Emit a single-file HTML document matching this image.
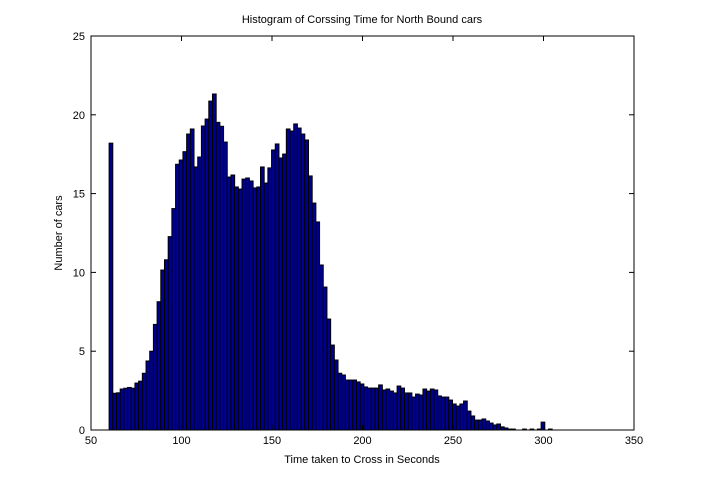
<!DOCTYPE html>
<html><head><meta charset="utf-8"><style>
body{margin:0;background:#fff;}
svg{display:block;font-family:"Liberation Sans",sans-serif;}
</style></head><body>
<svg id="chart" width="701" height="483" xmlns="http://www.w3.org/2000/svg">
<rect width="701" height="483" fill="#fff"/>
<g id="bars"></g>
<g id="axes"></g>
<text x="362" y="23" font-size="11" text-anchor="middle">Histogram of Corssing Time for North Bound cars</text>
<text x="362" y="463" font-size="11" text-anchor="middle">Time taken to Cross in Seconds</text>
<text transform="translate(62,233) rotate(-90)" font-size="11" text-anchor="middle">Number of cars</text>
</svg>
<script>
const binStart = 60;
const binWidth = 2.04;
const counts = [18.2,2.33,2.36,2.6,2.65,2.7,2.65,2.98,3.1,3.6,4.38,5.0,6.7,8.14,10.15,10.8,12.27,14.05,16.86,17.13,17.66,18.78,19.1,16.69,17.32,19.29,19.73,20.87,21.32,19.52,
19.27,18.27,16.05,16.18,15.42,15.29,15.92,15.99,15.8,15.36,15.42,16.69,15.67,16.63,17.77,18.15,17.26,17.51,19.1,18.97,19.42,19.16,18.78,18.4,16.12,14.4,13.2,10.47,9.07,7.04,5.39,4.44,3.6,
3.49,3.17,3.17,3.17,3.05,2.92,2.73,2.66,2.66,2.66,2.86,2.54,2.6,2.47,2.35,2.79,2.66,2.35,2.35,2.09,2.28,2.22,2.6,2.47,2.6,2.54,2.16,2.09,2.09,1.9,1.65,1.52,1.65,1.84,1.2,0.89,0.63,0.63,0.7,0.57,0.44,0.32,0.38,0.2,0.13,0.06,0.06,
0,0,0.06,0,0.06,0,0.06,0.5,0,0.06];
const xTicks = [50,100,150,200,250,300,350];
const yTicks = [0,5,10,15,20,25];
const L=91,R=634,T=36,B=430;
const xs = v => L + (v-50)/300*(R-L);
const ys = v => B - v/25*(B-T);
const NS="http://www.w3.org/2000/svg";
const bars=document.getElementById('bars');
counts.forEach((c,i)=>{
  if(c<=0) return;
  const r=document.createElementNS(NS,'rect');
  const x0=xs(binStart+i*binWidth), x1=xs(binStart+(i+1)*binWidth);
  r.setAttribute('x',x0);r.setAttribute('width',x1-x0);
  r.setAttribute('y',ys(c));r.setAttribute('height',B-ys(c));
  r.setAttribute('fill','#00008f');r.setAttribute('stroke','#000');r.setAttribute('stroke-width','1');
  
  
  bars.appendChild(r);
});
const ax=document.getElementById('axes');
let h='<rect x="'+L+'" y="'+T+'" width="'+(R-L)+'" height="'+(B-T)+'" fill="none" stroke="#000" stroke-width="1"/>';
xTicks.forEach(t=>{const x=xs(t);
  h+='<line x1="'+x+'" y1="'+B+'" x2="'+x+'" y2="'+(B-5)+'" stroke="#000"/><line x1="'+x+'" y1="'+T+'" x2="'+x+'" y2="'+(T+5)+'" stroke="#000"/>';
  h+='<text x="'+x+'" y="'+(B+14)+'" font-size="11" text-anchor="middle">'+t+'</text>';});
yTicks.forEach(t=>{const y=ys(t);
  h+='<line x1="'+L+'" y1="'+y+'" x2="'+(L+5)+'" y2="'+y+'" stroke="#000"/><line x1="'+R+'" y1="'+y+'" x2="'+(R-5)+'" y2="'+y+'" stroke="#000"/>';
  h+='<text x="'+(L-6)+'" y="'+(y+4)+'" font-size="11" text-anchor="end">'+t+'</text>';});
ax.innerHTML=h;
</script>
</body></html>
